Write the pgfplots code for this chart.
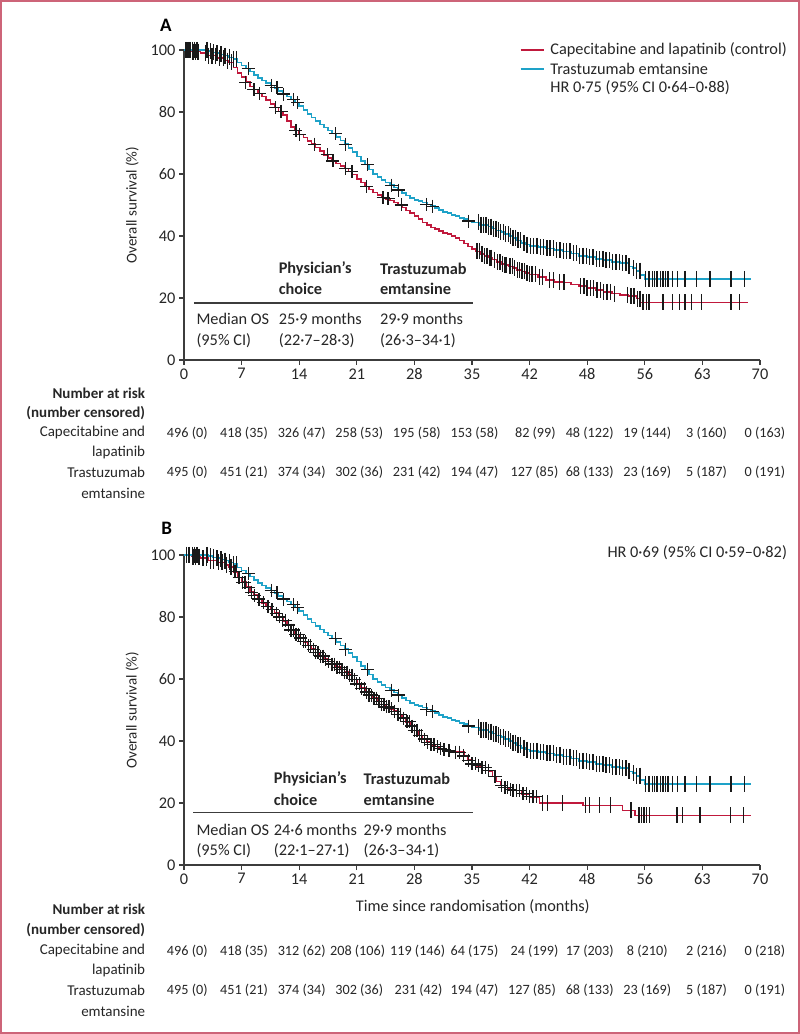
\documentclass[border=0pt]{standalone}
\usepackage{fontspec}
\setmainfont{Carlito}
\usepackage{pgfplots}
\usepackage{pgfplotstable}
\pgfplotsset{compat=1.18}
\definecolor{kmred}{RGB}{192,25,60}
\definecolor{kmblue}{RGB}{30,162,200}
\definecolor{framec}{RGB}{205,100,120}
\definecolor{axgray}{RGB}{60,60,60}
\newcommand\fs{\fontsize{15}{17}\selectfont}
\newcommand\fn{\fontsize{14.2}{16}\selectfont}
\newcommand\fl{\fontsize{16.3}{18}\selectfont}

% ---------- survival curves ----------
\pgfplotstableread{
t s
0 100
2.5 100
3 99.6
3.5 99.2
4 99.0
4.5 98.6
5 98.2
5.5 97.6
6 97.0
6.5 96.0
7 95.0
7.5 94.0
8 93.0
8.5 92.0
9 91.0
9.5 90.2
10 89.4
10.5 88.6
11 87.8
11.5 86.8
12 85.8
12.5 85.0
13 84.0
13.5 83.0
14 82.0
14.5 80.6
15 79.4
15.5 78.2
16 77.0
16.5 76.0
17 75.0
17.5 74.0
18 73.0
18.5 72.0
19 70.8
19.5 69.6
20 68.4
20.5 67.0
21 65.6
21.5 64.2
22 63.0
22.5 61.4
23 60.0
23.5 59.0
24 58.0
24.5 57.2
25 56.4
25.5 55.6
26 54.8
26.5 53.8
27 53.0
27.5 52.2
28 51.6
28.5 51.2
29 50.8
29.5 50.2
30 49.6
30.5 49.0
31 48.4
31.5 47.8
32 47.4
32.5 46.8
33 46.4
33.5 45.8
34 45.4
34.5 44.8
35 44.4
36 43.6
37 43.0
37.5 42.4
38 41.8
38.5 41.2
39 40.6
39.5 40.0
40 39.4
40.5 38.6
41 37.8
41.5 37.2
42 36.8
43 36.4
44 36.0
45 35.4
46 35.0
47 34.4
48 33.6
49 33.2
50 32.6
51 32.2
52 31.6
53 31.2
54 30.2
54.5 29.6
55 28.8
55.5 27.4
56 26.2
68.9 26.2
}\blueKM

\pgfplotstableread{
t s
0 100
1 99.5
2 99.0
3 98.2
4 97.4
5 96.6
5.5 96.0
6 94.4
6.5 92.6
7 91.2
7.5 89.6
8 88.2
8.5 87.2
9 86.0
9.5 85.0
10 83.8
10.5 82.6
11 81.4
11.5 80.2
12 79.0
12.5 77.0
13 75.2
13.5 74.0
14 72.8
14.5 71.8
15 70.6
15.5 69.6
16 68.6
16.5 67.4
17 66.2
17.5 65.2
18 64.2
18.5 63.4
19 62.6
19.5 61.8
20 60.8
20.5 59.8
21 58.4
21.5 57.2
22 56.0
22.5 55.0
23 54.0
23.5 53.2
24 52.4
24.5 52.0
25 51.4
25.5 50.8
26 50.0
26.5 49.2
27 48.2
27.5 47.4
28 46.4
28.5 45.4
29 44.4
29.5 43.6
30 42.8
30.5 42.2
31 41.6
31.5 41.0
32 40.6
32.5 40.0
33 39.4
33.5 38.6
34 37.6
34.5 36.6
35 35.8
35.5 35.0
36 34.2
36.5 33.6
37 33.0
37.5 32.4
38 31.6
38.5 31.0
39 30.6
39.5 30.2
40 29.6
40.5 29.0
41 28.6
41.5 28.0
42 27.6
43 26.8
44 25.8
45 25.2
46 25.0
47 24.4
48 23.8
49 23.2
50 22.6
51 22.0
52 21.4
53 21.0
54 20.6
55 19.8
55.5 18.6
68.5 18.6
}\redAKM

\pgfplotstableread{
t s
0 100
1 99.5
2 99.0
3 98.2
4 97.6
5 96.8
5.5 96.2
6 94.6
6.5 92.8
7 91.2
7.5 89.6
8 88.0
8.5 87.0
9 85.8
9.5 84.6
10 83.4
10.5 82.4
11 81.2
11.5 80.0
12 78.8
12.5 77.4
13 75.8
13.5 74.4
14 73.2
14.5 72.0
15 70.8
15.5 69.6
16 68.6
16.5 67.4
17 66.4
17.5 65.6
18 64.8
18.5 63.8
19 63.0
19.5 62.2
20 61.2
20.5 59.8
21 58.4
21.5 57.0
22 55.8
22.5 54.8
23 53.8
23.5 52.8
24 51.8
24.5 51.0
25 50.4
25.5 49.6
26 48.6
26.5 47.4
27 46.2
27.5 44.8
28 43.4
28.5 41.8
29 40.6
29.5 39.6
30 38.8
30.5 38.2
31 37.6
31.5 37.2
32 36.8
33 36.4
34 35.2
34.5 33.8
35 32.6
35.5 32.0
36 31.4
37 30.4
37.5 28.6
38 27.0
38.5 25.6
39 25.0
39.5 24.4
40 24.0
41 23.0
42 22.0
43.2 20.0
48.5 19.2
53.3 17.6
54.8 16.0
68.9 16.0
}\redBKM

% ---------- censoring marks ----------
\pgfplotstableread{
t s
0.3 100
0.6 100
1.0 100
1.3 100
1.6 100
2.8 100
3.2 99.6
3.6 99.2
4.0 99.0
4.5 98.6
5.0 98.2
5.5 97.6
6.0 97.0
6.4 97.0
35.8 44.4
36.1 43.6
36.4 43.6
36.7 43.6
37.0 43.0
37.3 43.0
37.6 42.4
37.9 42.4
38.2 41.8
38.5 41.2
38.8 41.2
39.1 40.6
39.4 40.6
39.7 40.0
40.0 39.4
40.3 39.4
40.6 38.6
40.9 38.6
41.3 37.8
41.7 37.2
42.1 36.8
42.5 36.8
42.9 36.8
43.3 36.4
43.7 36.4
44.1 36.0
44.5 36.0
44.9 36.0
45.3 35.4
45.7 35.4
46.1 35.0
46.5 35.0
46.9 35.0
47.3 34.4
47.7 34.4
48.1 33.6
48.5 33.6
48.9 33.6
49.3 33.2
49.7 33.2
50.1 32.6
50.5 32.6
50.9 32.6
51.3 32.2
51.7 32.2
52.1 31.6
52.5 31.6
52.9 31.6
53.3 31.2
53.7 31.2
54.1 30.2
54.6 29.6
55.0 28.8
55.4 28.8
56.1 26.2
56.5 26.2
56.9 26.2
57.2 26.2
57.5 26.2
57.9 26.2
58.2 26.2
58.5 26.2
58.8 26.2
59.4 26.2
60.0 26.2
60.9 26.2
62.3 26.2
63.9 26.2
66.5 26.2
68.1 26.2
}\blueBars

\pgfplotstableread{
t s
7.8 94.0
10.6 88.6
11.3 87.8
12.1 85.8
13.3 84.0
13.8 83.0
18.4 73.0
19.6 69.6
22.3 63.0
25.2 56.4
26.1 54.8
29.5 50.2
30.2 49.6
34.6 44.8
}\blueCross

\pgfplotstableread{
t s
0.2 100
0.5 100
0.8 100
1.1 99.5
1.4 99.5
1.7 99.5
2.6 99.0
3.0 98.2
3.4 98.2
3.8 98.2
4.3 97.4
4.8 97.4
5.3 96.6
5.8 96.0
35.6 35.0
35.9 35.0
36.2 34.2
36.5 33.6
36.8 33.6
37.1 33.0
37.3 33.0
37.7 32.4
38.1 31.6
38.4 31.6
38.7 31.0
39.0 30.6
39.2 30.6
39.6 30.2
39.9 30.2
40.2 29.6
40.5 29.0
40.8 29.0
41.1 28.6
41.4 28.6
41.7 28.0
42.0 27.6
42.3 27.6
42.7 27.6
43.2 26.8
43.6 26.8
44.4 25.8
44.9 25.8
45.6 25.2
46.2 25.0
48.2 23.8
48.6 23.8
49.0 23.2
49.4 23.2
49.8 23.2
50.2 22.6
50.6 22.6
51.0 22.0
51.4 22.0
51.8 22.0
52.3 21.4
53.9 21.0
54.3 20.6
54.7 20.6
55.1 19.8
55.4 19.8
55.8 18.6
56.2 18.6
56.5 18.6
58.2 18.6
59.4 18.6
60.2 18.6
60.9 18.6
61.7 18.6
62.9 18.6
66.5 18.6
67.5 18.6
}\redABars

\pgfplotstableread{
t s
7.5 89.6
8.5 87.2
9.2 86.0
11.1 81.4
11.8 80.2
13.6 74.0
14.0 72.8
15.9 69.6
17.4 66.2
18.1 64.2
19.6 61.8
20.4 60.8
22.2 56.0
24.2 52.4
24.8 52.0
26.4 50.0
}\redACross

\pgfplotstableread{
t s
0.3 100
0.6 100
1.1 99.5
1.4 99.5
1.8 99.5
2.3 99.0
2.7 99.0
3.2 98.2
3.6 98.2
4.2 97.6
4.6 97.6
5.2 96.8
5.7 96.2
43.6 20.0
44.2 20.0
46.0 20.0
48.8 19.2
49.3 19.2
50.5 19.2
51.8 19.2
54.3 17.6
55.3 16.0
55.6 16.0
55.9 16.0
56.2 16.0
56.6 16.0
59.9 16.0
60.6 16.0
62.7 16.0
66.4 16.0
68.0 16.0
}\redBBars

\pgfplotstableread{
t s
6.2 94.6
6.7 92.8
7.1 91.2
7.4 91.2
7.8 89.6
8.2 88.0
8.6 87.0
9.1 85.8
9.7 84.6
10.2 83.4
10.7 82.4
11.2 81.2
11.6 80.0
12.0 78.8
12.3 78.8
12.7 77.4
13.0 75.8
13.3 75.8
13.6 74.4
13.9 74.4
14.2 73.2
14.5 72.0
14.8 72.0
15.1 70.8
15.4 70.8
15.7 69.6
16.0 68.6
16.3 68.6
16.6 67.4
16.9 67.4
17.2 66.4
17.6 65.6
18.0 64.8
18.3 64.8
18.6 63.8
18.9 63.8
19.2 63.0
19.5 62.2
19.8 62.2
20.1 61.2
20.4 61.2
20.7 59.8
21.0 58.4
21.3 58.4
21.6 57.0
21.9 57.0
22.2 55.8
22.5 54.8
22.8 54.8
23.1 53.8
23.4 53.8
23.7 52.8
24.0 51.8
24.3 51.8
24.6 51.0
24.9 51.0
25.2 50.4
25.6 49.6
26.0 48.6
26.3 48.6
26.7 47.4
27.1 46.2
27.4 46.2
27.7 44.8
28.0 43.4
28.3 43.4
28.6 41.8
28.9 41.8
29.2 40.6
29.6 39.6
30.0 38.8
30.4 38.8
30.8 38.2
31.2 37.6
31.6 37.2
32.2 36.8
33.0 36.4
33.5 36.4
34.0 35.2
34.6 33.8
35.0 32.6
35.4 32.6
35.8 32.0
36.2 31.4
36.6 31.4
37.0 30.4
37.8 28.6
38.6 25.6
39.0 25.0
39.3 25.0
39.7 24.4
40.0 24.0
40.4 24.0
40.8 24.0
41.2 23.0
41.6 23.0
42.0 22.0
42.4 22.0
42.8 22.0
}\redBCross

\pgfplotsset{
  kmaxis/.style={
    scale only axis, width=576pt, height=310pt,
    xmin=0, xmax=70, ymin=0, ymax=100,
    axis x line*=bottom, axis y line*=left,
    axis line style={axgray, line width=1.1pt},
    xtick={0,7,14,21,28,35,42,49,56,63,70},
    xticklabels={0,7,14,21,28,35,42,48,56,63,70},
    ytick={0,20,40,60,80,100},
    tick align=outside, major tick length=5pt,
    tick style={axgray, line width=1.1pt},
    tick label style={font=\fl, text=black!85},
    /pgf/number format/assume math mode=true,
    clip=false, anchor=south west,
  },
  bars/.style={only marks, mark=|, mark size=8pt, mark options={draw=black!90, line width=1.4pt}},
  crosses/.style={only marks, mark=+, mark size=6.5pt, mark options={draw=black!90, line width=1.3pt}},
  redline/.style={const plot, kmred, line width=1.6pt, no marks},
  blueline/.style={const plot, kmblue, line width=1.6pt, no marks},
}
\newcommand\risk[3]{\node[font=\fn, text=black!85] at (axis cs:#1,#2) {#3};}

\begin{document}
\begin{tikzpicture}
\useasboundingbox (0pt,0pt) rectangle (800pt,1034pt);
\draw[framec, line width=1.6pt] (0.8pt,0.8pt) rectangle (799.2pt,1033.2pt);

% ================= Panel A =================
\begin{axis}[kmaxis, at={(184pt,674pt)}]
\addplot[bars] table[x=t,y=s] {\blueBars};
\addplot[crosses] table[x=t,y=s] {\blueCross};
\addplot[bars] table[x=t,y=s] {\redABars};
\addplot[crosses] table[x=t,y=s] {\redACross};
\addplot[redline] table[x=t,y=s] {\redAKM};
\addplot[blueline] table[x=t,y=s] {\blueKM};

\node[font=\fontsize{19}{21}\selectfont\bfseries] at (axis cs:-2.2,108) {A};
\node[rotate=90, font=\fs, text=black!85] at (axis cs:-6.3,50) {Overall survival (\%)};

\draw[kmred, line width=1.6pt] (axis cs:40.9,100) -- (axis cs:43.7,100);
\draw[kmblue, line width=1.6pt] (axis cs:40.9,93.9) -- (axis cs:43.7,93.9);
\node[anchor=west, inner sep=0pt, font=\fl, text=black!85] at (axis cs:44.5,100) {Capecitabine and lapatinib (control)};
\node[anchor=west, inner sep=0pt, font=\fl, text=black!85] at (axis cs:44.5,93.9) {Trastuzumab emtansine};
\node[anchor=west, inner sep=0pt, font=\fl, text=black!85] at (axis cs:44.5,87.7) {HR 0·75 (95\% CI 0·64–0·88)};

\node[anchor=west, inner sep=0pt, font=\fl\bfseries, text=black!85] at (axis cs:11.5,29.4) {Physician’s};
\node[anchor=west, inner sep=0pt, font=\fl\bfseries, text=black!85] at (axis cs:11.5,22.9) {choice};
\node[anchor=west, inner sep=0pt, font=\fl\bfseries, text=black!85] at (axis cs:23.8,29.4) {Trastuzumab};
\node[anchor=west, inner sep=0pt, font=\fl\bfseries, text=black!85] at (axis cs:23.8,22.9) {emtansine};
\draw[axgray, line width=1.1pt] (axis cs:1.2,18.4) -- (axis cs:35.1,18.4);
\node[anchor=west, inner sep=0pt, font=\fl, text=black!85] at (axis cs:1.5,13.2) {Median OS};
\node[anchor=west, inner sep=0pt, font=\fl, text=black!85] at (axis cs:1.5,6.1) {(95\% CI)};
\node[anchor=west, inner sep=0pt, font=\fl, text=black!85] at (axis cs:11.5,13.2) {25·9 months};
\node[anchor=west, inner sep=0pt, font=\fl, text=black!85] at (axis cs:11.5,6.1) {(22·7–28·3)};
\node[anchor=west, inner sep=0pt, font=\fl, text=black!85] at (axis cs:23.8,13.2) {29·9 months};
\node[anchor=west, inner sep=0pt, font=\fl, text=black!85] at (axis cs:23.8,6.1) {(26·3–34·1)};

\node[anchor=east, inner sep=0pt, font=\fs\bfseries, text=black!85] at (axis cs:-4.7,-10.6) {Number at risk};
\node[anchor=east, inner sep=0pt, font=\fs\bfseries, text=black!85] at (axis cs:-4.7,-17.1) {(number censored)};
\node[anchor=east, inner sep=0pt, font=\fs, text=black!85] at (axis cs:-4.7,-23.5) {Capecitabine and};
\node[anchor=east, inner sep=0pt, font=\fs, text=black!85] at (axis cs:-4.7,-30.0) {lapatinib};
\node[anchor=east, inner sep=0pt, font=\fs, text=black!85] at (axis cs:-4.7,-36.1) {Trastuzumab};
\node[anchor=east, inner sep=0pt, font=\fs, text=black!85] at (axis cs:-4.7,-42.9) {emtansine};

\risk{0.4}{-23.5}{496 (0)}
\risk{7.3}{-23.5}{418 (35)}
\risk{14.3}{-23.5}{326 (47)}
\risk{21.3}{-23.5}{258 (53)}
\risk{28.3}{-23.5}{195 (58)}
\risk{35.3}{-23.5}{153 (58)}
\risk{42.7}{-23.5}{82 (99)}
\risk{49.3}{-23.5}{48 (122)}
\risk{56.3}{-23.5}{19 (144)}
\risk{63.5}{-23.5}{3 (160)}
\risk{70.6}{-23.5}{0 (163)}

\risk{0.4}{-36.1}{495 (0)}
\risk{7.3}{-36.1}{451 (21)}
\risk{14.3}{-36.1}{374 (34)}
\risk{21.3}{-36.1}{302 (36)}
\risk{28.3}{-36.1}{231 (42)}
\risk{35.3}{-36.1}{194 (47)}
\risk{42.6}{-36.1}{127 (85)}
\risk{49.3}{-36.1}{68 (133)}
\risk{56.3}{-36.1}{23 (169)}
\risk{63.5}{-36.1}{5 (187)}
\risk{70.6}{-36.1}{0 (191)}
\end{axis}

% ================= Panel B =================
\begin{axis}[kmaxis, at={(184pt,169pt)}]
\addplot[bars] table[x=t,y=s] {\blueBars};
\addplot[crosses] table[x=t,y=s] {\blueCross};
\addplot[bars] table[x=t,y=s] {\redBBars};
\addplot[crosses] table[x=t,y=s] {\redBCross};
\addplot[redline] table[x=t,y=s] {\redBKM};
\addplot[blueline] table[x=t,y=s] {\blueKM};

\node[font=\fontsize{19}{21}\selectfont\bfseries] at (axis cs:-2.1,108.7) {B};
\node[rotate=90, font=\fs, text=black!85] at (axis cs:-6.3,50) {Overall survival (\%)};
\node[anchor=east, inner sep=0pt, font=\fl, text=black!85] at (axis cs:73.3,100.6) {HR 0·69 (95\% CI 0·59–0·82)};

\node[anchor=west, inner sep=0pt, font=\fl\bfseries, text=black!85] at (axis cs:10.9,27.7) {Physician’s};
\node[anchor=west, inner sep=0pt, font=\fl\bfseries, text=black!85] at (axis cs:10.9,21.0) {choice};
\node[anchor=west, inner sep=0pt, font=\fl\bfseries, text=black!85] at (axis cs:21.8,27.7) {Trastuzumab};
\node[anchor=west, inner sep=0pt, font=\fl\bfseries, text=black!85] at (axis cs:21.8,21.0) {emtansine};
\draw[axgray, line width=1.1pt] (axis cs:1.1,16.8) -- (axis cs:35.1,16.8);
\node[anchor=west, inner sep=0pt, font=\fl, text=black!85] at (axis cs:1.5,11.3) {Median OS};
\node[anchor=west, inner sep=0pt, font=\fl, text=black!85] at (axis cs:1.5,4.5) {(95\% CI)};
\node[anchor=west, inner sep=0pt, font=\fl, text=black!85] at (axis cs:10.9,11.3) {24·6 months};
\node[anchor=west, inner sep=0pt, font=\fl, text=black!85] at (axis cs:10.9,4.5) {(22·1–27·1)};
\node[anchor=west, inner sep=0pt, font=\fl, text=black!85] at (axis cs:21.8,11.3) {29·9 months};
\node[anchor=west, inner sep=0pt, font=\fl, text=black!85] at (axis cs:21.8,4.5) {(26·3–34·1)};

\node[font=\fl, text=black!85] at (axis cs:35.1,-13.5) {Time since randomisation (months)};

\node[anchor=east, inner sep=0pt, font=\fs\bfseries, text=black!85] at (axis cs:-4.7,-14.2) {Number at risk};
\node[anchor=east, inner sep=0pt, font=\fs\bfseries, text=black!85] at (axis cs:-4.7,-21.0) {(number censored)};
\node[anchor=east, inner sep=0pt, font=\fs, text=black!85] at (axis cs:-4.7,-27.7) {Capecitabine and};
\node[anchor=east, inner sep=0pt, font=\fs, text=black!85] at (axis cs:-4.7,-33.9) {lapatinib};
\node[anchor=east, inner sep=0pt, font=\fs, text=black!85] at (axis cs:-4.7,-40.3) {Trastuzumab};
\node[anchor=east, inner sep=0pt, font=\fs, text=black!85] at (axis cs:-4.7,-47.1) {emtansine};

\risk{0.4}{-27.7}{496 (0)}
\risk{7.3}{-27.7}{418 (35)}
\risk{14.3}{-27.7}{312 (62)}
\risk{21.1}{-27.7}{208 (106)}
\risk{28.4}{-27.7}{119 (146)}
\risk{35.3}{-27.7}{64 (175)}
\risk{42.6}{-27.7}{24 (199)}
\risk{49.3}{-27.7}{17 (203)}
\risk{56.3}{-27.7}{8 (210)}
\risk{63.5}{-27.7}{2 (216)}
\risk{70.6}{-27.7}{0 (218)}

\risk{0.4}{-40.3}{495 (0)}
\risk{7.3}{-40.3}{451 (21)}
\risk{14.3}{-40.3}{374 (34)}
\risk{21.3}{-40.3}{302 (36)}
\risk{28.5}{-40.3}{231 (42)}
\risk{35.3}{-40.3}{194 (47)}
\risk{42.3}{-40.3}{127 (85)}
\risk{49.3}{-40.3}{68 (133)}
\risk{56.3}{-40.3}{23 (169)}
\risk{63.5}{-40.3}{5 (187)}
\risk{70.6}{-40.3}{0 (191)}
\end{axis}
\end{tikzpicture}
\end{document}
